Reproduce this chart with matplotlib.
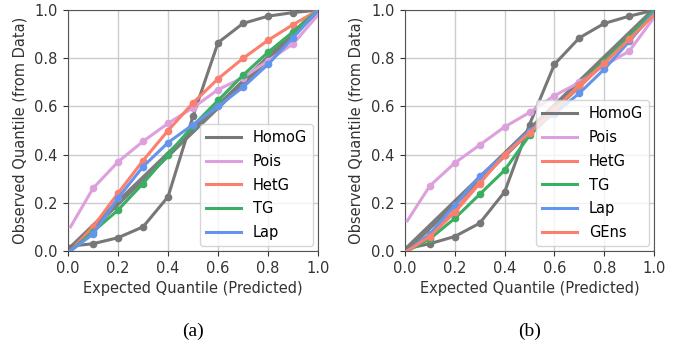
import numpy as np
import matplotlib.pyplot as plt

x = [0.01, 0.1, 0.2, 0.3, 0.4, 0.5, 0.6, 0.7, 0.8, 0.9, 1.0]

# panel (a)
a_homog = [0.02, 0.03, 0.055, 0.10, 0.225, 0.56, 0.865, 0.945, 0.975, 0.99, 1.0]
a_pois = [0.10, 0.26, 0.37, 0.455, 0.53, 0.595, 0.67, 0.72, 0.79, 0.86, 0.98]
a_hetg = [0.0, 0.10, 0.24, 0.375, 0.50, 0.615, 0.715, 0.80, 0.875, 0.94, 1.0]
a_tg = [0.0, 0.08, 0.17, 0.28, 0.40, 0.52, 0.625, 0.73, 0.825, 0.91, 1.0]
a_lap = [0.0, 0.07, 0.22, 0.35, 0.45, 0.525, 0.60, 0.68, 0.775, 0.885, 1.0]

# panel (b)
b_homog = [0.01, 0.03, 0.06, 0.115, 0.245, 0.525, 0.775, 0.885, 0.945, 0.975, 1.0]
b_pois = [0.125, 0.27, 0.365, 0.44, 0.515, 0.575, 0.645, 0.70, 0.77, 0.83, 0.97]
b_hetg = [0.0, 0.06, 0.17, 0.285, 0.40, 0.495, 0.585, 0.68, 0.78, 0.88, 0.99]
b_tg = [0.0, 0.05, 0.135, 0.235, 0.335, 0.48, 0.58, 0.69, 0.79, 0.89, 1.0]
b_lap = [0.0, 0.07, 0.19, 0.31, 0.40, 0.50, 0.57, 0.655, 0.755, 0.87, 0.99]
b_gens = [0.0, 0.06, 0.16, 0.28, 0.40, 0.49, 0.585, 0.69, 0.78, 0.88, 0.98]

colors = {"HomoG": "#777777", "Pois": "#DDA0DD", "HetG": "#FA7F6F",
          "TG": "#3AAE62", "Lap": "#6495ED", "GEns": "#FA7F6F"}

plt.rcParams['font.size'] = 10.5
fig = plt.figure(figsize=(6.85, 3.5), dpi=100)
ax1 = fig.add_axes([0.0993, 0.283, 0.365, 0.688])
ax2 = fig.add_axes([0.591, 0.283, 0.364, 0.688])

panels = [
    (ax1, [("HomoG", a_homog), ("Pois", a_pois), ("HetG", a_hetg), ("TG", a_tg), ("Lap", a_lap)], "(a)"),
    (ax2, [("HomoG", b_homog), ("Pois", b_pois), ("HetG", b_hetg), ("TG", b_tg), ("Lap", b_lap), ("GEns", b_gens)], "(b)"),
]

for ax, series, cap in panels:
    ax.grid(True, color="#cccccc", linewidth=1.0)
    ax.set_axisbelow(True)
    ax.plot([0, 1], [0, 1], color="#6e6e6e", linewidth=4, alpha=0.9, zorder=2)
    for name, ys in series:
        ax.plot(x, ys, color=colors[name], linewidth=2.2, label=name, zorder=3)
        ax.plot(x[1:-1], ys[1:-1], "o", color=colors[name], markersize=4.5, zorder=3)
    ax.set_xlim(0, 1)
    ax.set_ylim(0, 1)
    ax.set_xticks(np.arange(0, 1.01, 0.2))
    ax.set_yticks(np.arange(0, 1.01, 0.2))
    ax.set_xlabel("Expected Quantile (Predicted)", color="#333333", labelpad=3)
    ax.set_ylabel("Observed Quantile (from Data)", color="#333333", labelpad=5)
    ax.tick_params(colors="#333333", labelsize=10.5, pad=4)
    for s in ax.spines.values():
        s.set_color("#555555")
    ax.legend(loc="lower right", fontsize=10.5, handlelength=2.4, borderaxespad=0.35,
              labelspacing=0.6, handletextpad=0.8)
    pos = ax.get_position()
    fig.text((pos.x0 + pos.x1) / 2, 0.03, cap, ha="center", va="bottom",
             fontsize=14, family="Liberation Serif")

fig.savefig("out.png", dpi=100)
